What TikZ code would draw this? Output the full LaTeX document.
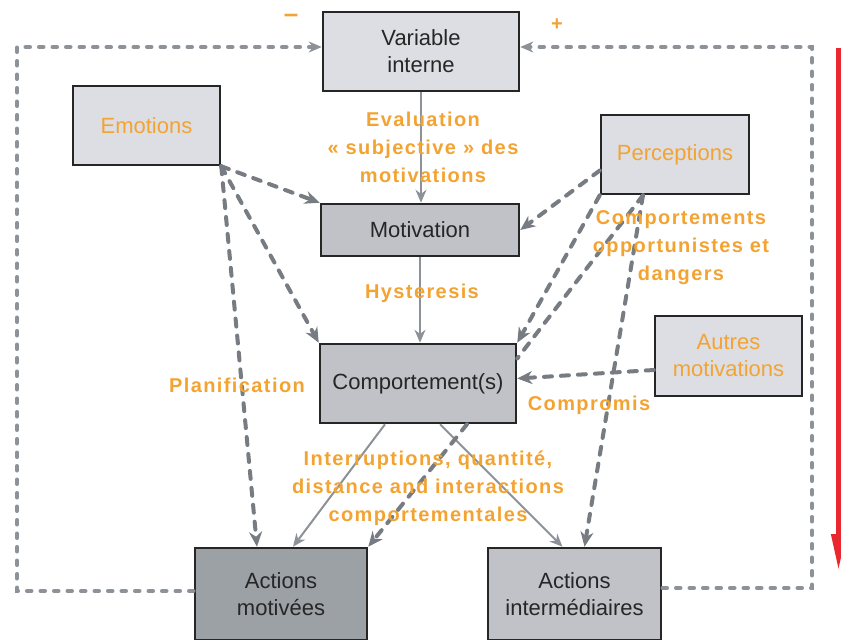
\documentclass[tikz,border=0pt]{standalone}
\usepackage{fontspec}
\setmainfont{Liberation Sans}
\usetikzlibrary{positioning,arrows.meta}

\definecolor{boxlight}{RGB}{220,222,227}
\definecolor{boxmid}{RGB}{192,194,200}
\definecolor{boxdark}{RGB}{156,161,166}
\definecolor{lblorange}{RGB}{243,163,50}
\definecolor{linegrey}{RGB}{118,124,129}
\definecolor{loopgrey}{RGB}{140,146,152}
\definecolor{arrowred}{RGB}{232,40,46}

\begin{document}
\begin{tikzpicture}[x=1pt, y=-1pt,
  box/.style={draw=black!85, line width=2.5pt, inner sep=0pt, align=center,
    text=black!85, font=\fontsize{22}{27}\selectfont},
  lbl/.style={text=lblorange, align=center,
    font=\fontsize{20}{28}\selectfont\bfseries\addfontfeature{LetterSpace=7}},
  solidarr/.style={draw=loopgrey, line width=2pt, -{Stealth[length=13pt,width=11pt]}},
  dasharr/.style={draw=linegrey, line width=4pt, line cap=round,
    dash pattern=on 8pt off 9pt, -{Stealth[length=15pt,width=13pt]}},
  fbloop/.style={draw=loopgrey, line width=3.5pt, line cap=round,
    dash pattern=on 5pt off 8.5pt, -{Stealth[length=13pt,width=11pt]}},
  redarr/.style={draw=arrowred, line width=4.5pt, -{Triangle[length=36pt,width=14pt]}}]

  \useasboundingbox (0,0) rectangle (841,640);

  % Top: internal variable
  \node[box, fill=boxlight, minimum width=196pt, minimum height=79pt] (var) at (421,51.5) {Variable\\interne};

  % Side inputs
  \node[box, fill=boxlight, text=lblorange, minimum width=147pt, minimum height=79pt] (emo) at (146.5,125.5) {Emotions};
  \node[box, fill=boxlight, text=lblorange, minimum width=148pt, minimum height=79pt] (perc) at (675,154.5) {Perceptions};
  \node[box, fill=boxlight, text=lblorange, minimum width=147pt, minimum height=80pt] (autres) at (728.5,356) {Autres\\motivations};

  % Middle column
  \node[box, fill=boxmid, minimum width=198pt, minimum height=52pt] (motiv) at (420,230) {Motivation};
  \node[box, fill=boxmid, minimum width=196pt, minimum height=79pt] (comp) at (418,383.5) {Comportement(s)};

  % Bottom: actions
  \node[box, fill=boxdark, minimum width=172pt, minimum height=92pt] (actm) at (281,594) {Actions\\motivées};
  \node[box, fill=boxmid, minimum width=173pt, minimum height=92pt] (acti) at (574.5,594) {Actions\\intermédiaires};

  % Corners of the feedback loops
  \coordinate (loopL) at (17,47);
  \coordinate (loopR) at (812,47);
  \coordinate (redtop) at (838.5,48);
  \coordinate (redbot) at (838.5,570);

  % Main chain
  \draw[solidarr] (var.south) -- (var.south |- motiv.north);
  \draw[solidarr] (motiv.south) -- (motiv.south |- comp.north);
  \draw[solidarr] ([xshift=-33pt]comp.south) -- ([xshift=12pt]actm.north);
  \draw[solidarr] ([xshift=22pt]comp.south) -- ([xshift=-12pt]acti.north);

  % Edges from Emotions
  \draw[dasharr] (emo.south east) -- (motiv.north west);
  \draw[dasharr] (emo.south east) -- (comp.north west);
  \draw[dasharr] (emo.south east) -- ([xshift=-24pt]actm.north);

  % Edges from Perceptions
  \draw[dasharr] ([yshift=-16pt]perc.west) -- (motiv.east);
  \draw[dasharr] (perc.south west) -- (comp.north east);
  \draw[dasharr, -] ([xshift=-32pt]perc.south) -- ([yshift=25pt]comp.east);
  \draw[dasharr] ([xshift=-32pt]perc.south) -- ([xshift=10pt]acti.north);

  % Edges from Autres motivations and Comportement(s)
  \draw[dasharr] ([yshift=-14pt]autres.west) -- ([yshift=5pt]comp.east);
  \draw[dasharr] ([xshift=49pt]comp.south) -- (actm.north east);

  % Feedback loops
  \draw[fbloop] ([yshift=3pt]actm.west) -| (loopL) -- ([yshift=4.5pt]var.west);
  \draw[fbloop] ([yshift=6pt]acti.east) -| (loopR) -- ([yshift=4.5pt]var.east);
  \draw[redarr] (redtop) -- (redbot);

  % Labels
  \node[lbl, font=\fontsize{26}{28}\selectfont\bfseries] (minus) at (291,18) {–};
  \node[lbl] (plus) at (557,25) {+};
  \node[lbl] (eval) at (423,147) {Evaluation\\«~subjective~» des\\motivations};
  \node[lbl] (hyst) at (422,293) {Hysteresis};
  \node[lbl] (oppo) at (681,248) {Comportements\\opportunistes et\\dangers};
  \node[lbl] (plan) at (237,385) {Planification};
  \node[lbl] (compr) at (589,405) {Compromis};
  \node[lbl] (inter) at (428,488) {Interruptions, quantité,\\distance and interactions\\comportementales};

\end{tikzpicture}
\end{document}
